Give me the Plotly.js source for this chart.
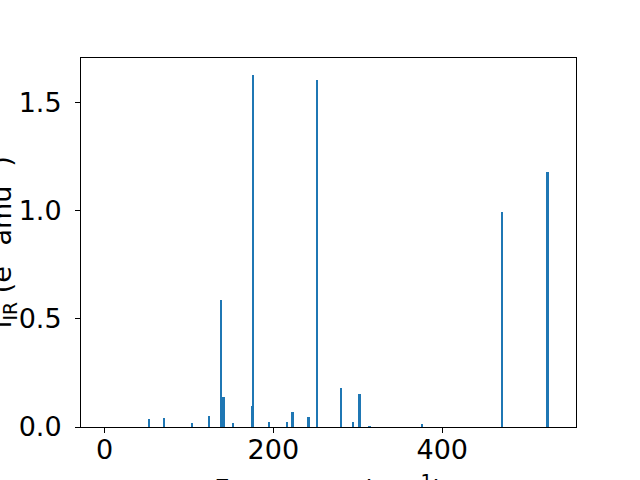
<!DOCTYPE html>
<html>
<head>
<meta charset="utf-8">
<script src="https://cdn.plot.ly/plotly-3.0.1.min.js"></script>
<style>html,body{margin:0;padding:0;background:#fff;}#chart{width:640px;height:480px;}</style>
</head>
<body>
<div id="chart"></div>
<script>
const frequencies = [0, 52.7, 70.5, 104.1, 124.3, 138.5, 140.9, 152.7, 174.8, 176.4, 194.5, 216.3, 222.6, 241.6, 251.4, 280.6, 294.0, 302.0, 313.8, 375.5, 471.0, 524.7];
const intensities = [0, 0.037, 0.042, 0.019, 0.051, 0.588, 0.139, 0.019, 0.097, 1.630, 0.023, 0.023, 0.069, 0.046, 1.606, 0.180, 0.023, 0.153, 0.005, 0.014, 0.995, 1.180];
const xTickVals = [0, 200, 400];
const yTickVals = [0.0, 0.5, 1.0, 1.5];
const yTickText = ['0.0', '0.5', '1.0', '1.5'];
const xTitle = 'Frequency (cm<sup>-1</sup>)';
const yTitle = 'I<sub>IR</sub> (e<sup>2</sup> amu<sup>-1</sup>)';

const font = {family: 'DejaVu Sans', size: 27, color: '#000'};
const plotL = 81, plotR = 576, plotT = 58, plotB = 427;
const pw = plotR - plotL, ph = plotB - plotT;
Plotly.newPlot('chart', [{
  type: 'bar',
  x: frequencies,
  y: intensities,
  width: frequencies.map(() => 2.5),
  marker: {color: '#1f77b4', line: {width: 0}},
  hoverinfo: 'x+y'
}], {
  width: 640, height: 480,
  margin: {l: plotL, r: 640 - plotR, t: plotT, b: 480 - plotB},
  paper_bgcolor: '#fff', plot_bgcolor: '#fff',
  font: font,
  showlegend: false,
  bargap: 0,
  xaxis: {
    range: [-27.8, 558.4],
    tickvals: xTickVals,
    ticks: 'outside', ticklen: 5, tickwidth: 1, tickcolor: '#000',
    ticklabelstandoff: -6,
    showline: true, linecolor: '#000', linewidth: 1, mirror: true,
    showgrid: false, zeroline: false,
    tickfont: font
  },
  yaxis: {
    range: [0, 1.708],
    tickvals: yTickVals, ticktext: yTickText,
    ticks: 'outside', ticklen: 5, tickwidth: 1, tickcolor: '#000',
    ticklabelstandoff: 8,
    showline: true, linecolor: '#000', linewidth: 1, mirror: true,
    showgrid: false, zeroline: false,
    tickfont: font
  },
  annotations: [
    {text: xTitle, xref: 'paper', yref: 'paper', showarrow: false,
     x: 0.5, y: (plotB - 468) / ph, xanchor: 'center', yanchor: 'top', font: font},
    {text: yTitle, xref: 'paper', yref: 'paper', showarrow: false, textangle: -90,
     x: (1 - plotL) / pw, y: 0.5, xanchor: 'center', yanchor: 'middle', font: font}
  ]
}, {displayModeBar: false, staticPlot: true});
</script>
</body>
</html>
